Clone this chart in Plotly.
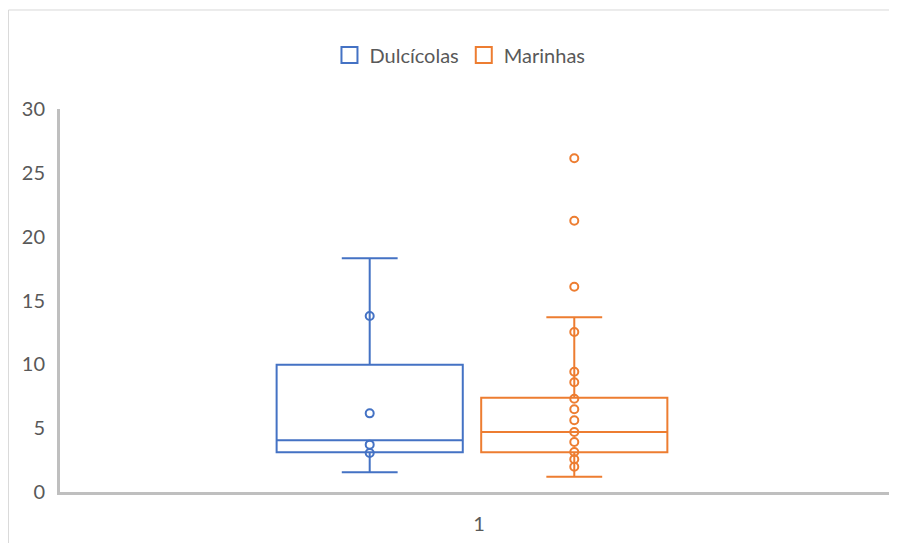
import plotly.graph_objects as go

categories = ["1"]
series_names = ["Dulcícolas", "Marinhas"]
colors = ["#4472C4", "#ED7D31"]

# precomputed box statistics
dulc_q1 = [3.11]
dulc_median = [4.05]
dulc_q3 = [9.97]
dulc_lower = [1.54]
dulc_upper = [18.30]
dulc_points = [13.79, 6.16, 3.71, 3.05]

mar_q1 = [3.11]
mar_median = [4.70]
mar_q3 = [7.39]
mar_lower = [1.20]
mar_upper = [13.68]
mar_points = [26.14, 21.25, 16.08, 12.53, 9.42, 8.59, 7.31, 6.48, 5.62,
              4.70, 3.92, 3.13, 2.56, 1.98]

y_ticks = [0, 5, 10, 15, 20, 25, 30]

fig = go.Figure()
for name, col, q1, med, q3, lo, up, pts in [
    (series_names[0], colors[0], dulc_q1, dulc_median, dulc_q3, dulc_lower, dulc_upper, dulc_points),
    (series_names[1], colors[1], mar_q1, mar_median, mar_q3, mar_lower, mar_upper, mar_points),
]:
    fig.add_trace(go.Box(
        name=name,
        x=categories,
        y=[pts],
        q1=q1, median=med, q3=q3, lowerfence=lo, upperfence=up,
        boxpoints="all", jitter=0, pointpos=0,
        fillcolor="rgba(255,255,255,0)",
        line=dict(color=col, width=2),
        whiskerwidth=0.3,
        marker=dict(symbol="circle-open", size=8, color=col,
                    line=dict(color=col, width=2)),
        hoverinfo="y",
        showlegend=False,
    ))

# legend entries with larger open squares (like Excel)
for name, col in zip(series_names, colors):
    fig.add_trace(go.Scatter(
        x=[None], y=[None], mode="markers", name=name,
        marker=dict(symbol="square-open", size=16, color=col,
                    line=dict(color=col, width=2)),
        showlegend=True,
    ))

fig.update_layout(
    width=889, height=535,
    boxmode="group", boxgap=0.51, boxgroupgap=0.09,
    margin=dict(l=52, r=2, t=101, b=51),
    paper_bgcolor="white", plot_bgcolor="white",
    font=dict(family="Lato, Carlito, Calibri, sans-serif", size=20, color="#595959"),
    showlegend=True,
    legend=dict(orientation="h", x=0.479, xanchor="center", y=1.141, yanchor="middle",
                font=dict(size=20, color="#595959"), tracegroupgap=0),
    xaxis=dict(type="category", range=[-0.4934, 0.5066], showgrid=False, zeroline=False,
               showline=True, linecolor="#BFBFBF", linewidth=3, ticks="",
               ticklabelstandoff=12, ticklabelshift=7,
               tickfont=dict(size=20, color="#595959")),
    yaxis=dict(range=[0, 30], tickvals=y_ticks, showgrid=False, zeroline=False,
               showline=True, linecolor="#BFBFBF", linewidth=3, ticks="",
               ticklabelstandoff=8, tickfont=dict(size=20, color="#595959")),
    shapes=[
        dict(type="line", xref="paper", yref="paper", x0=-0.0617, x1=-0.0617,
             y0=1.2585, y1=-0.16, line=dict(color="#D9D9D9", width=1)),
        dict(type="line", xref="paper", yref="paper", x0=-0.0617, x1=1.02,
             y0=1.2585, y1=1.2585, line=dict(color="#D9D9D9", width=1)),
    ],
)

fig.write_html("out.html")
